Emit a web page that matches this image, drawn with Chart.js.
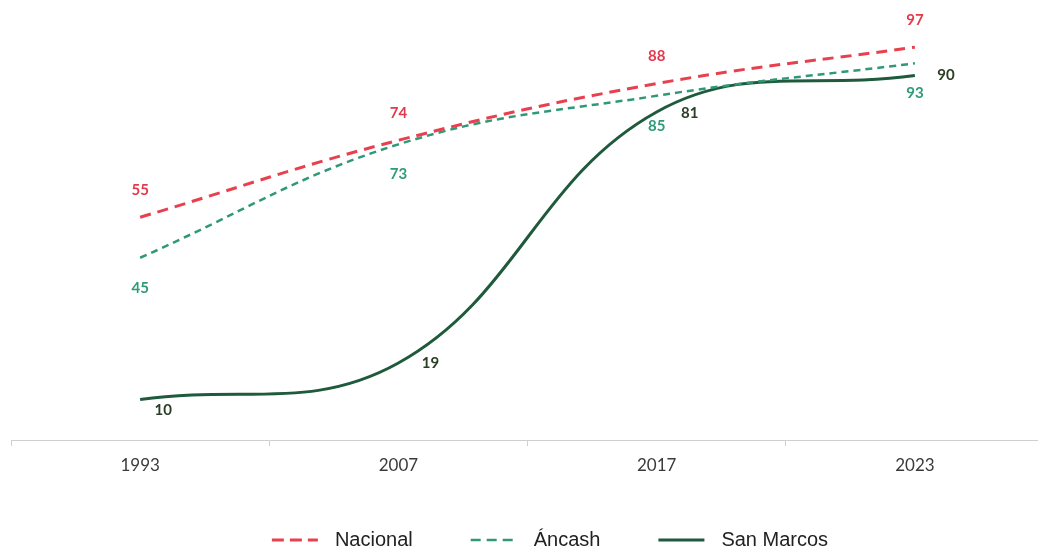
<!DOCTYPE html>
<html lang="es">
<head>
<meta charset="utf-8">
<title>Nacional, Áncash y San Marcos</title>
<script src="https://cdn.jsdelivr.net/npm/chart.js@4/dist/chart.umd.min.js"></script>
<style>
  html, body { margin: 0; padding: 0; background: #ffffff; overflow: hidden; }
  #wrap { position: relative; width: 1055px; height: 549px; }
</style>
</head>
<body>
<div id="wrap"><canvas id="chart"></canvas></div>
<script>
// Years on the horizontal axis
const years = ['1993', '2007', '2017', '2023'];

// Series values (%)
const nacional  = [55, 74, 88, 97];
const ancash    = [45, 73, 85, 93];
const sanMarcos = [10, 19, 81, 90];

// Series names
const seriesNames = ['Nacional', 'Áncash', 'San Marcos'];

// Appearance of each series
const styles = [
  { color: '#e8404e', labelColor: '#e2394c', width: 3,   dash: [11, 7], legendDash: [12, 6] },
  { color: '#2f9977', labelColor: '#2e9a78', width: 2.5, dash: [7, 5],  legendDash: [10, 6] },
  { color: '#1f5a3c', labelColor: '#2c3e26', width: 3,   dash: [],      legendDash: [] }
];

// Value label offsets (px) relative to each point
const labelOffsets = [
  [[0, -27], [0, -27], [0, -27], [0, -27]],
  [[0, 30], [0, 30], [0, 30], [0, 30]],
  [[23, 11], [32, 0], [33, 1], [31, 0]]
];

const seriesValues = [nacional, ancash, sanMarcos];

// Draws the value next to every point
const valueLabels = {
  id: 'valueLabels',
  afterDatasetsDraw(chart) {
    const ctx = chart.ctx;
    ctx.save();
    ctx.font = 'bold 15px Lato, "Open Sans", sans-serif';
    ctx.textAlign = 'center';
    ctx.textBaseline = 'middle';
    chart.data.datasets.forEach((ds, di) => {
      const meta = chart.getDatasetMeta(di);
      ctx.fillStyle = styles[di].labelColor;
      meta.data.forEach((pt, i) => {
        const off = labelOffsets[di][i];
        ctx.fillText(String(ds.data[i]), pt.x + off[0], pt.y + off[1]);
      });
    });
    ctx.restore();
  }
};

// Legend row under the axis
const bottomLegend = {
  id: 'bottomLegend',
  afterDraw(chart) {
    const ctx = chart.ctx;
    const lineLen = 46, textGap = 17, itemGap = 58, y = 540, centerX = 550;
    ctx.save();
    ctx.font = '20px "Liberation Sans", Arial, sans-serif';
    const widths = seriesNames.map(n => ctx.measureText(n).width);
    const total = widths.reduce((a, w) => a + lineLen + textGap + w, 0) + itemGap * (seriesNames.length - 1);
    let x = centerX - total / 2;
    seriesNames.forEach((name, i) => {
      const st = styles[i];
      ctx.beginPath();
      ctx.setLineDash(st.legendDash);
      ctx.lineWidth = st.width;
      ctx.strokeStyle = st.color;
      ctx.moveTo(x, y);
      ctx.lineTo(x + lineLen, y);
      ctx.stroke();
      ctx.setLineDash([]);
      ctx.fillStyle = '#222222';
      ctx.textAlign = 'left';
      ctx.textBaseline = 'middle';
      ctx.fillText(name, x + lineLen + textGap, y);
      x += lineLen + textGap + widths[i] + itemGap;
    });
    ctx.restore();
  }
};

new Chart(document.getElementById('chart'), {
  type: 'line',
  data: {
    labels: years,
    datasets: seriesValues.map((vals, i) => ({
      label: seriesNames[i],
      data: vals,
      borderColor: styles[i].color,
      borderWidth: styles[i].width,
      borderDash: styles[i].dash,
      borderCapStyle: 'butt',
      tension: 0.4,
      pointRadius: 0,
      pointHoverRadius: 0,
      fill: false,
      clip: false
    }))
  },
  options: {
    responsive: true,
    maintainAspectRatio: false,
    animation: false,
    events: [],
    layout: { padding: { left: 11, right: 11, top: 35, bottom: 69 } },
    plugins: {
      legend: { display: false },
      tooltip: { enabled: false }
    },
    scales: {
      x: {
        offset: true,
        afterFit(scale) { scale.height = 40; },
        border: { display: true, color: '#cfcfcf', width: 1 },
        grid: { display: true, offset: true, drawOnChartArea: false, drawTicks: true, tickLength: 6, color: '#cfcfcf' },
        ticks: { color: '#3a3a3a', padding: 9, font: { family: 'Lato, "Open Sans", sans-serif', size: 17 } }
      },
      y: {
        display: false,
        min: 0,
        max: 100
      }
    }
  },
  plugins: [valueLabels, bottomLegend]
});
</script>
</body>
</html>
